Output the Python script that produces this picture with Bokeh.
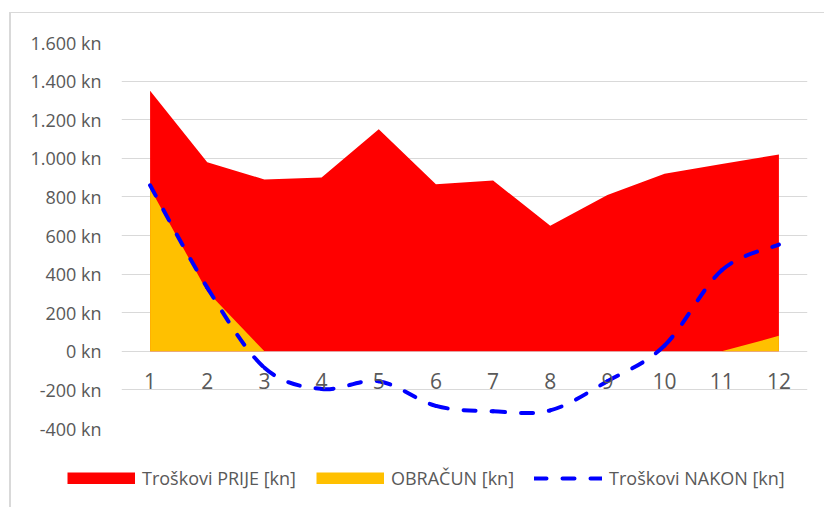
from bokeh.plotting import figure
from bokeh.models import (FixedTicker, LinearAxis, Legend, LegendItem, Range1d,
                          ColumnDataSource)
from bokeh.layouts import column
from bokeh.embed import file_html
from bokeh.resources import INLINE

# ---- data ----
months = [1, 2, 3, 4, 5, 6, 7, 8, 9, 10, 11, 12]
month_labels = ["1", "2", "3", "4", "5", "6", "7", "8", "9", "10", "11", "12"]
troskovi_prije = [1350, 980, 890, 900, 1150, 865, 885, 650, 810, 920, 970, 1020]
obracun = [845, 310, 0, 0, 0, 0, 0, 0, 0, 0, 0, 80]
troskovi_nakon = [860, 330, -85, -195, -155, -283, -311, -306, -155, 30, 420, 553]
y_ticks = [-400, -200, 0, 200, 400, 600, 800, 1000, 1200, 1400, 1600]
y_labels = ["-400 kn", "-200 kn", "0 kn", "200 kn", "400 kn", "600 kn", "800 kn",
            "1.000 kn", "1.200 kn", "1.400 kn", "1.600 kn"]
series_names = ["Troškovi PRIJE [kn]", "OBRAČUN [kn]", "Troškovi NAKON [kn]"]
series_colors = ["#FF0000", "#FFC000", "#0000FF"]

FONT = "Open Sans"
GRAY = "#595959"

p = figure(width=813, height=451, x_range=Range1d(0.5, 12.5), y_range=Range1d(-400, 1600),
           output_backend="svg", toolbar_location=None, x_axis_location=None,
           min_border_left=110, min_border_right=17, min_border_top=29, min_border_bottom=36)
p.frame_align = False
p.outline_line_color = None
p.xgrid.visible = False
p.ygrid.ticker = FixedTicker(ticks=y_ticks)
p.ygrid.grid_line_color = "#d9d9d9"
p.ygrid.grid_line_width = 1

ya = p.yaxis[0]
ya.ticker = FixedTicker(ticks=y_ticks)
ya.major_label_overrides = {t: l for t, l in zip(y_ticks, y_labels)}
ya.axis_line_color = None
ya.major_tick_line_color = None
ya.minor_tick_line_color = None
ya.major_label_standoff = 14
ya.major_label_text_font = FONT
ya.major_label_text_font_size = "18px"
ya.major_label_text_color = GRAY

xa = LinearAxis(fixed_location=0, ticker=FixedTicker(ticks=months),
                major_label_overrides={m: l for m, l in zip(months, month_labels)})
xa.axis_line_color = None
xa.major_tick_line_color = None
xa.minor_tick_line_color = None
xa.major_label_standoff = 16
xa.major_label_text_font = FONT
xa.major_label_text_font_size = "21px"
xa.major_label_text_color = GRAY
p.add_layout(xa, "below")

src = ColumnDataSource(dict(x=months, prije=troskovi_prije, obr=obracun, nakon=troskovi_nakon))
p.varea(x="x", y1=0, y2="prije", source=src, fill_color=series_colors[0])
p.varea(x="x", y1=0, y2="obr", source=src, fill_color=series_colors[1])

# smoothed line (Excel-style bezier segments through the data points)
n = len(months)
x0, y0, x1, y1, cx0, cy0, cx1, cy1 = [], [], [], [], [], [], [], []
for i in range(n - 1):
    pm = max(i - 1, 0)
    pn = min(i + 2, n - 1)
    x0.append(months[i]); y0.append(troskovi_nakon[i])
    x1.append(months[i + 1]); y1.append(troskovi_nakon[i + 1])
    cx0.append(months[i] + (months[i + 1] - months[pm]) / 6)
    cy0.append(troskovi_nakon[i] + (troskovi_nakon[i + 1] - troskovi_nakon[pm]) / 6)
    cx1.append(months[i + 1] - (months[pn] - months[i]) / 6)
    cy1.append(troskovi_nakon[i + 1] - (troskovi_nakon[pn] - troskovi_nakon[i]) / 6)
bsrc = ColumnDataSource(dict(x0=x0, y0=y0, x1=x1, y1=y1, cx0=cx0, cy0=cy0, cx1=cx1, cy1=cy1))
p.bezier(x0="x0", y0="y0", x1="x1", y1="y1", cx0="cx0", cy0="cy0", cx1="cx1", cy1="cy1",
         source=bsrc, line_color=series_colors[2], line_width=4, line_dash="12 16",
         line_cap="round")

# legend strip below the chart (same series, drawn outside this strip's visible ranges)
q = figure(width=813, height=43, x_range=Range1d(-30, -20), y_range=Range1d(-5000, -4000),
           output_backend="svg", toolbar_location=None, x_axis_location=None,
           y_axis_location=None, min_border=0)
q.frame_align = False
q.outline_line_color = None
q.grid.visible = False
l1 = q.line(x="x", y="prije", source=src, line_color=series_colors[0], line_width=12,
            line_cap="butt")
l2 = q.line(x="x", y="obr", source=src, line_color=series_colors[1], line_width=12,
            line_cap="butt")
l3 = q.line(x="x", y="nakon", source=src, line_color=series_colors[2], line_width=4,
            line_dash="12 16", line_cap="round")
legend = Legend(items=[LegendItem(label=series_names[0], renderers=[l1]),
                       LegendItem(label=series_names[1], renderers=[l2]),
                       LegendItem(label=series_names[2], renderers=[l3])],
                location=(56, 17), orientation="horizontal")
legend.glyph_width = 68
legend.glyph_height = 12
legend.label_standoff = 7
legend.spacing = 20
legend.padding = 0
legend.margin = 0
legend.border_line_color = None
legend.background_fill_alpha = 0
legend.label_text_font = FONT
legend.label_text_font_size = "18px"
legend.label_text_color = GRAY
legend.label_height = 20
q.add_layout(legend, "center")

layout = column(p, q, spacing=0,
                styles={"border-left": "2px solid #d9d9d9", "border-top": "1px solid #d9d9d9",
                        "margin-left": "9px", "margin-top": "12px"})

open("out.html", "w").write(file_html(layout, INLINE))
